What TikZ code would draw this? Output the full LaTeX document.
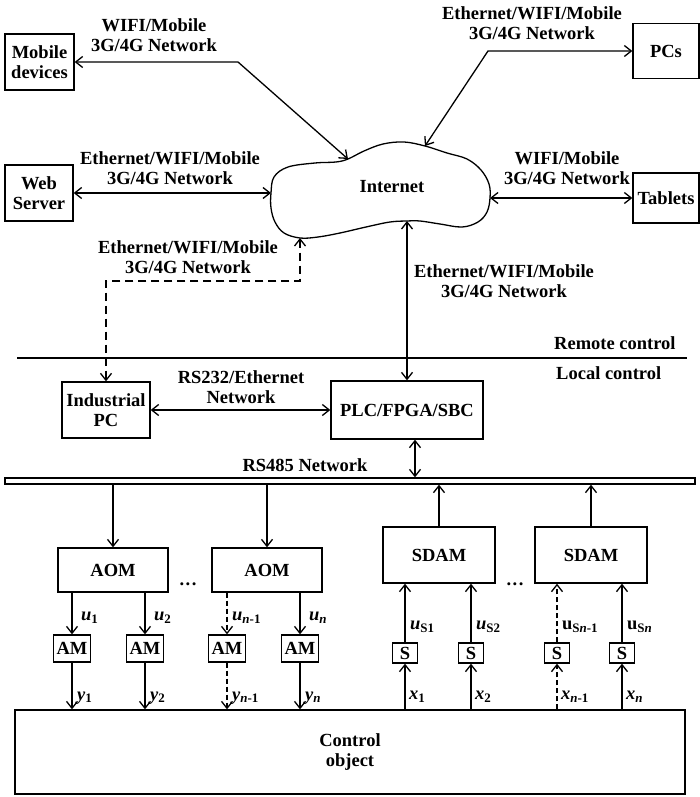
\documentclass[tikz,border=0pt]{standalone}
\usepackage{fontspec}
\setmainfont{Liberation Serif}
\usetikzlibrary{arrows.meta}
\tikzset{
  box/.style     = {draw, line width=1.3pt, inner sep=0pt, align=center},
  link/.style    = {{Straight Barb[length=7pt,width=11pt]}-{Straight Barb[length=7pt,width=11pt]},
                    line width=1.3pt},
  sig/.style     = {-{Straight Barb[length=7pt,width=11pt]}, line width=1.3pt},
  lbl/.style     = {align=center, inner sep=0pt},
  sublbl/.style  = {anchor=west, inner sep=0pt},
  dashline/.style= {dash pattern=on 8pt off 5pt},
}

\begin{document}
\begin{tikzpicture}[x=1pt, y=-1pt, font=\fontsize{18.5}{20}\selectfont\bfseries]
\useasboundingbox (0,0) rectangle (700,797);
% ---- internet cloud ----
\draw[line width=1.3pt] plot[smooth cycle, tension=0.6] coordinates {
  (271,193) (274,177) (288,167) (315,163) (336,162) (348,159) (364,151)
  (383,144) (404,142) (425,146) (447,153) (467,159) (481,170) (489,184)
  (490,198) (487,212) (478,222) (462,227) (440,224) (420,221) (407,221)
  (390,222) (366,227) (340,233) (318,237) (300,238) (284,233) (275,222)
  (271,208)};
\node (inet) at (392,187) {Internet};
\coordinate (c-mob) at (348,159);
\coordinate (c-web) at (271,193);
\coordinate (c-pc)  at (425,146);
\coordinate (c-tab) at (490,198);
\coordinate (c-ipc) at (300,238);
\coordinate (c-plc) at (407,221);
% ---- remote devices ----
\node[box, minimum width=69pt, minimum height=56pt] (mob) at (39.5,62)
     {Mobile\\devices};
\node[box, minimum width=68pt, minimum height=56pt] (web) at (39,193)
     {Web\\Server};
\node[box, minimum width=66pt, minimum height=55pt] (pcs) at (666,51) {PCs};
\node[box, minimum width=66pt, minimum height=50pt] (tab) at (666,198)
     {Tablets};
\coordinate (k-mob) at (238,62);
\coordinate (k-pc)  at (488,51);
\draw[link] (mob.east) -- (k-mob) -- (c-mob);
\draw[link] (web.east) -- (c-web);
\draw[link] (c-pc) -- (k-pc) -- (pcs.west);
\draw[link] (c-tab) -- (tab.west);
\node[lbl] (l-mob) at (154,35)  {WIFI/Mobile\\3G/4G Network};
\node[lbl] (l-web) at (170,168) {Ethernet/WIFI/Mobile\\3G/4G Network};
\node[lbl] (l-pc)  at (532,23)  {Ethernet/WIFI/Mobile\\3G/4G Network};
\node[lbl] (l-tab) at (567,168) {WIFI/Mobile\\3G/4G Network};
% ---- remote / local border ----
\coordinate (sep-l) at (17,358);
\coordinate (sep-r) at (687,358);
\draw[line width=1.8pt] (sep-l) -- (sep-r);
\node[anchor=west, inner sep=0pt] (remote) at (554,343) {Remote control};
\node[anchor=west, inner sep=0pt] (local)  at (556,373) {Local control};
% ---- local controllers ----
\node[box, minimum width=88pt, minimum height=56pt] (ipc) at (106,410)
     {Industrial\\PC};
\node[box, minimum width=152pt, minimum height=58pt] (plc) at (407,410)
     {PLC/FPGA/SBC};
\coordinate (k-ipc1) at (300,281);
\coordinate (k-ipc2) at (106,281);
\draw[link, dashline] (c-ipc) -- (k-ipc1) -- (k-ipc2) -- (ipc.north);
\draw[link] (c-plc) -- (plc.north);
\draw[link] (ipc.east) -- (plc.west);
\node[lbl] (l-ipc)   at (188,257) {Ethernet/WIFI/Mobile\\3G/4G Network};
\node[lbl] (l-plc)   at (504,281) {Ethernet/WIFI/Mobile\\3G/4G Network};
\node[lbl] (l-rs232) at (241,387) {RS232/Ethernet\\Network};
% ---- RS485 bus ----
\node[draw, line width=1.3pt, minimum width=690pt, minimum height=6pt,
      inner sep=0pt] (bus) at (350,481) {};
\node[lbl] (l-rs485) at (305,465) {RS485 Network};
\draw[link] ([xshift=8pt]plc.south) -- ([xshift=8pt]plc.south |- bus.north);
% ---- output modules ----
\node[box, minimum width=110pt, minimum height=44pt] (aom1) at (113,570) {AOM};
\node[box, minimum width=110pt, minimum height=44pt] (aom2) at (267,570) {AOM};
\node (dots1) at (188,584) {.\kern1.5pt.\kern1.5pt.};
\draw[sig] (aom1.north |- bus.south) -- (aom1.north);
\draw[sig] (aom2.north |- bus.south) -- (aom2.north);
\node[box, minimum width=37pt, minimum height=27pt] (am1) at (72,648.5)  {AM};
\node[box, minimum width=37pt, minimum height=27pt] (am2) at (145,648.5) {AM};
\node[box, minimum width=37pt, minimum height=27pt] (am3) at (227,648.5) {AM};
\node[box, minimum width=37pt, minimum height=27pt] (am4) at (300,648.5) {AM};
% ---- sensor modules ----
\node[box, minimum width=112pt, minimum height=56pt] (sdam1) at (439,555) {SDAM};
\node[box, minimum width=112pt, minimum height=56pt] (sdam2) at (591,555) {SDAM};
\node (dots2) at (515,584) {.\kern1.5pt.\kern1.5pt.};
\draw[sig] (sdam1.north) -- (sdam1.north |- bus.south);
\draw[sig] (sdam2.north) -- (sdam2.north |- bus.south);
\node[box, minimum width=25pt, minimum height=20pt] (s1) at (405,653) {S};
\node[box, minimum width=25pt, minimum height=20pt] (s2) at (471,653) {S};
\node[box, minimum width=25pt, minimum height=20pt] (s3) at (557,653) {S};
\node[box, minimum width=25pt, minimum height=20pt] (s4) at (622,653) {S};
% ---- control object ----
\node[box, minimum width=670pt, minimum height=84pt] (obj) at (350,752)
     {Control\\object};
% ---- actuator signals ----
\draw[sig] (am1.north |- aom1.south) -- (am1.north);
\draw[sig] (am2.north |- aom1.south) -- (am2.north);
\draw[sig, dash pattern=on 5pt off 3pt] (am3.north |- aom2.south) -- (am3.north);
\draw[sig] (am4.north |- aom2.south) -- (am4.north);
\draw[sig] (am1.south) -- (am1.south |- obj.north);
\draw[sig] (am2.south) -- (am2.south |- obj.north);
\draw[sig, dash pattern=on 5pt off 3pt] (am3.south) -- (am3.south |- obj.north);
\draw[sig] (am4.south) -- (am4.south |- obj.north);
\node[sublbl] (u1) at (81,618)  {\textit{u}\textsubscript{1}};
\node[sublbl] (u2) at (154,618) {\textit{u}\textsubscript{2}};
\node[sublbl] (u3) at (232,618) {\textit{u}\textsubscript{\textit{n}-1}};
\node[sublbl] (u4) at (309,618) {\textit{u}\textsubscript{\textit{n}}};
\node[sublbl] (y1) at (77,698)  {\textit{y}\textsubscript{1}};
\node[sublbl] (y2) at (150,698) {\textit{y}\textsubscript{2}};
\node[sublbl] (y3) at (232,698) {\textit{y}\textsubscript{\textit{n}-1}};
\node[sublbl] (y4) at (305,698) {\textit{y}\textsubscript{\textit{n}}};
% ---- sensor signals ----
\draw[sig] (s1.south |- obj.north) -- (s1.south);
\draw[sig] (s2.south |- obj.north) -- (s2.south);
\draw[sig, dash pattern=on 5pt off 3pt] (s3.south |- obj.north) -- (s3.south);
\draw[sig] (s4.south |- obj.north) -- (s4.south);
\draw[sig] (s1.north) -- (s1.north |- sdam1.south);
\draw[sig] (s2.north) -- (s2.north |- sdam1.south);
\draw[sig, dash pattern=on 5pt off 3pt] (s3.north) -- (s3.north |- sdam2.south);
\draw[sig] (s4.north) -- (s4.north |- sdam2.south);
\node[sublbl] (us1) at (410,627) {\textit{u}\textsubscript{S1}};
\node[sublbl] (us2) at (476,627) {\textit{u}\textsubscript{S2}};
\node[sublbl] (us3) at (562,627) {u\textsubscript{S\textit{n}-1}};
\node[sublbl] (us4) at (627,627) {u\textsubscript{S\textit{n}}};
\node[sublbl] (x1) at (409,697) {\textit{x}\textsubscript{1}};
\node[sublbl] (x2) at (475,697) {\textit{x}\textsubscript{2}};
\node[sublbl] (x3) at (561,697) {\textit{x}\textsubscript{\textit{n}-1}};
\node[sublbl] (x4) at (626,697) {\textit{x}\textsubscript{\textit{n}}};
\end{tikzpicture}
\end{document}
